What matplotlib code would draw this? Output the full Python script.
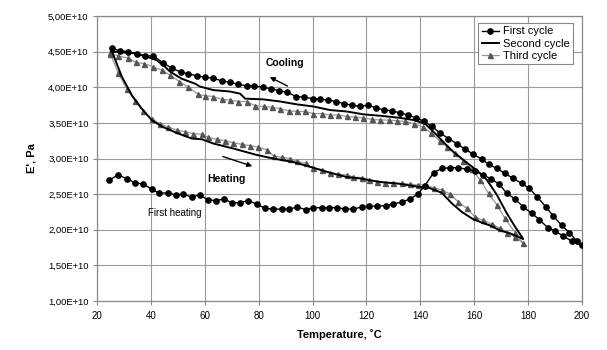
import numpy as np
import matplotlib.pyplot as plt
from matplotlib.ticker import FuncFormatter

plt.rcParams['font.family'] = ['Liberation Sans', 'DejaVu Sans']

# E' values below are in units of 1E+10 Pa
# first cycle: heating 25 -> 200, then cooling 200 -> 25
t1_heat = [24.6, 27.9, 31.0, 34.1, 37.2, 40.3, 43.1, 46.2, 49.2, 52.0, 55.1, 58.2,
           61.1, 64.1, 67.1, 70.0, 73.1, 76.2, 79.3, 82.4, 85.4, 88.6, 91.4, 94.4,
           97.5, 100.3, 103.4, 106.2, 109.2, 112.1, 115.1, 118.3, 121.1, 124.0, 127.2,
           130.0, 133.1, 136.2, 139.0, 141.7, 144.9, 147.9, 151.0, 154.1, 157.2, 160.3,
           163.2, 166.4, 169.3, 172.1, 175.2, 178.2, 181.4, 184.2, 187.3, 190.0, 193.1,
           196.2, 199.9]
e1_heat = [2.70, 2.77, 2.715, 2.66, 2.64, 2.57, 2.51, 2.52, 2.49, 2.50, 2.46, 2.49,
           2.42, 2.41, 2.43, 2.38, 2.38, 2.41, 2.36, 2.30, 2.29, 2.29, 2.29, 2.32,
           2.28, 2.31, 2.31, 2.31, 2.31, 2.29, 2.29, 2.32, 2.33, 2.33, 2.34,
           2.36, 2.39, 2.43, 2.50, 2.62, 2.80, 2.86, 2.87, 2.87, 2.85, 2.83,
           2.77, 2.71, 2.64, 2.51, 2.43, 2.32, 2.23, 2.14, 2.03, 1.98, 1.91,
           1.84, 1.78]
t1_cool = [198.1, 195.3, 192.5, 189.4, 186.6, 183.4, 180.5, 177.6, 174.5, 171.4, 168.4,
           165.3, 162.8, 159.7, 156.6, 153.5, 150.4, 147.3, 144.2, 141.5, 138.4, 135.6,
           132.5, 129.4, 126.5, 123.6, 120.5, 117.6, 114.5, 111.7, 108.7, 105.9, 102.8,
           100.1, 96.8, 93.9, 90.6, 87.7, 84.5, 81.5, 78.3, 75.6, 72.5, 69.4, 66.3,
           63.2, 60.1, 57.0, 53.9, 51.2, 47.7, 44.6, 40.9, 37.8, 34.7, 31.6, 28.5, 25.4]
e1_cool = [1.84, 1.96, 2.06, 2.19, 2.32, 2.46, 2.58, 2.65, 2.72, 2.79, 2.86,
           2.92, 2.99, 3.06, 3.13, 3.21, 3.28, 3.36, 3.45, 3.52, 3.57, 3.61,
           3.64, 3.67, 3.68, 3.71, 3.75, 3.73, 3.75, 3.77, 3.80, 3.82, 3.83,
           3.84, 3.86, 3.87, 3.93, 3.95, 3.98, 4.00, 4.02, 4.02, 4.04, 4.07, 4.09,
           4.125, 4.14, 4.16, 4.19, 4.21, 4.27, 4.34, 4.44, 4.44, 4.47, 4.50, 4.51, 4.55]

# second cycle (line only)
t2 = [25.4, 26.1, 29.2, 32.9, 36.6, 40.3, 44.0, 50.2, 55.2, 58.9, 63.2, 70.6, 79.3,
      85.4, 92.9, 100.3, 106.5, 112.7, 117.6, 125.1, 131.3, 139.9, 142.4, 147.9,
      151.7, 155.4, 159.1, 162.8, 165.9, 169.6, 173.3, 178.2,
      175.2, 172.1, 168.4, 164.7, 162.2, 159.7, 156.0, 152.3, 148.6, 144.9, 141.7,
      137.5, 132.5, 125.1, 118.8, 112.7, 106.5, 100.3, 94.1, 88.0, 81.7, 75.0, 73.1,
      69.4, 63.2, 58.2, 56.4, 51.4, 47.1, 44.6, 42.1, 38.4, 33.5, 25.4]
e2 = [4.51, 4.45, 4.15, 3.89, 3.70, 3.54, 3.45, 3.35, 3.28, 3.27, 3.21, 3.14, 3.05,
      3.00, 2.95, 2.87, 2.80, 2.74, 2.72, 2.67, 2.65, 2.60, 2.60, 2.52,
      2.37, 2.25, 2.16, 2.10, 2.06, 1.99, 1.95, 1.87,
      2.04, 2.23, 2.49, 2.70, 2.79, 2.87, 2.98, 3.09, 3.23, 3.375, 3.49,
      3.54, 3.57, 3.60, 3.62, 3.66, 3.68, 3.73, 3.76, 3.80, 3.83, 3.84, 3.91,
      3.94, 3.96, 4.01, 4.05, 4.12, 4.22, 4.31, 4.38, 4.43, 4.48, 4.50]

# third cycle (triangles)
t3_heat = [24.8, 27.9, 31.0, 34.1, 37.2, 40.3, 43.4, 46.5, 49.6, 52.7, 55.7, 58.9,
           61.3, 64.4, 67.5, 70.6, 73.7, 76.8, 79.9, 83.0, 85.7, 88.6, 91.6, 94.4, 97.6,
           100.3, 103.4, 106.5, 109.6, 112.7, 115.1, 118.3, 121.1, 124.0, 126.9, 130.0,
           133.1, 136.2, 139.0, 141.7, 144.9, 147.9, 151.0, 154.1, 157.2, 160.3, 163.4,
           166.5, 169.6, 172.1, 175.2, 178.2]
e3_heat = [4.48, 4.20, 3.98, 3.81, 3.66, 3.55, 3.49, 3.44, 3.40, 3.375, 3.35, 3.34,
           3.295, 3.27, 3.25, 3.22, 3.20, 3.18, 3.16, 3.12, 3.03, 3.02, 3.00, 2.96, 2.93,
           2.86, 2.84, 2.80, 2.78, 2.77, 2.74, 2.73, 2.70, 2.67, 2.66, 2.65,
           2.65, 2.64, 2.63, 2.63, 2.59, 2.56, 2.50, 2.39, 2.30, 2.18, 2.13,
           2.08, 2.02, 1.96, 1.90, 1.81]
t3_cool = [175.2, 171.4, 168.4, 165.3, 162.2, 159.0, 156.0, 153.0, 150.0, 147.3, 144.0,
           141.0, 137.5, 134.3, 131.3, 128.2, 125.1, 122.0, 118.8, 115.8, 112.7, 109.6,
           106.5, 103.4, 100.3, 97.3, 94.1, 91.1, 88.0, 84.9, 81.8, 78.7, 75.6, 72.5,
           69.4, 66.3, 63.2, 60.1, 57.6, 53.9, 50.6, 47.1, 44.0, 40.7, 37.6, 34.5,
           31.4, 27.9, 24.8]
e3_cool = [1.96, 2.16, 2.35, 2.51, 2.70, 2.85, 2.97, 3.08, 3.16, 3.24, 3.36,
           3.44, 3.49, 3.52, 3.53, 3.54, 3.54, 3.55, 3.57, 3.58, 3.59, 3.61,
           3.61, 3.63, 3.63, 3.66, 3.66, 3.67, 3.70, 3.72, 3.73, 3.74, 3.80, 3.80,
           3.82, 3.83, 3.87, 3.88, 3.90, 4.00, 4.08, 4.17, 4.24, 4.29, 4.33, 4.35,
           4.41, 4.44, 4.47]

x_ticks = [20, 40, 60, 80, 100, 120, 140, 160, 180, 200]
y_ticks = [1.0, 1.5, 2.0, 2.5, 3.0, 3.5, 4.0, 4.5, 5.0]


def sci_comma(v, pos):
    return ('%.2E' % v).replace('.', ',')


def main():
    fig = plt.figure(figsize=(6.07, 3.5), dpi=100)
    ax = fig.add_axes([97 / 607, 1 - 301 / 350, 485 / 607, 285 / 350])

    t1 = t1_heat + t1_cool
    e1 = [v * 1e10 for v in e1_heat + e1_cool]
    t3 = t3_heat + t3_cool
    e3 = [v * 1e10 for v in e3_heat + e3_cool]

    ax.plot(t1, e1, color='black', lw=1.0, marker='o', ms=3.8,
            label='First cycle', zorder=4)
    ax.plot(t2, [v * 1e10 for v in e2], color='black', lw=1.4,
            label='Second cycle', zorder=3)
    ax.plot(t3, e3, color='#9a9a9a', lw=0.9, marker='^',
            ms=3.6, mfc='#555555', mec='#555555', label='Third cycle', zorder=2)

    ax.set_xlim(20, 200)
    ax.set_ylim(1e10, 5e10)
    ax.set_xticks(x_ticks)
    ax.set_yticks([v * 1e10 for v in y_ticks])
    ax.yaxis.set_major_formatter(FuncFormatter(sci_comma))
    ax.tick_params(axis='x', labelsize=7, length=3, color='#888888', pad=4)
    ax.tick_params(axis='y', labelsize=6.8, length=3, color='#888888', pad=3)
    ax.grid(True, color='#9a9a9a', lw=0.8)
    ax.set_axisbelow(True)
    for s in ax.spines.values():
        s.set_color('#888888')
        s.set_linewidth(0.9)

    ax.set_xlabel('Temperature, ˚C', fontsize=8, fontweight='bold', labelpad=6)
    ax.set_ylabel("E', Pa", fontsize=8, fontweight='bold', labelpad=8)

    ax.text(82.4, 4.34e10, 'Cooling', fontsize=7.5, fontweight='bold',
            ha='left', va='center')
    ax.annotate('', xy=(83.2, 4.16e10), xytext=(91.6, 4.0e10),
                arrowprops=dict(arrowstyle='-|>', color='black', lw=1.0,
                                mutation_scale=7))
    ax.text(60.8, 2.71e10, 'Heating', fontsize=7.5, fontweight='bold',
            ha='left', va='center')
    ax.annotate('', xy=(78.6, 2.88e10), xytext=(65.7, 3.04e10),
                arrowprops=dict(arrowstyle='-|>', color='black', lw=1.0,
                                mutation_scale=7))
    ax.text(39.0, 2.23e10, 'First heating', fontsize=7, ha='left', va='center')

    leg = ax.legend(loc='upper right', bbox_to_anchor=(0.981, 0.975),
                    borderaxespad=0, fontsize=8, handlelength=1.6,
                    handletextpad=0.3, labelspacing=0.2, borderpad=0.3,
                    fancybox=False, framealpha=1)
    leg.get_frame().set_edgecolor('#888888')
    leg.get_frame().set_linewidth(0.8)

    fig.savefig('out.png', dpi=100)


if __name__ == "__main__":
    main()
